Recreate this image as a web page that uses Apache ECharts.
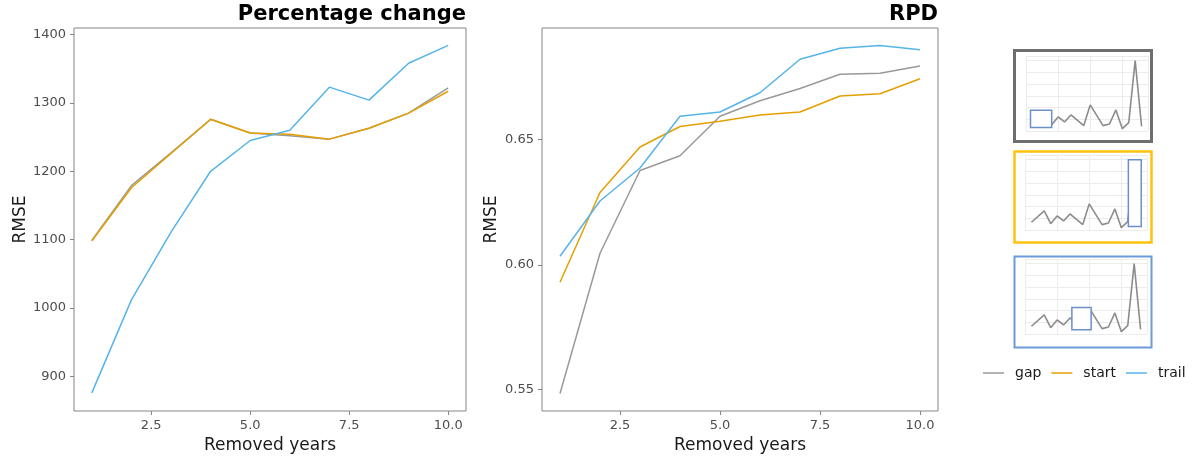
<!DOCTYPE html>
<html><head><meta charset="utf-8">
<script src="https://cdn.jsdelivr.net/npm/echarts@6/dist/echarts.min.js"></script>
<style>html,body{margin:0;padding:0;background:#fff}#c{width:1193px;height:459px}</style>
</head><body><div id="c"></div>
<script>
// ---- data ----
const removedYears = [1, 2, 3, 4, 5, 6, 7, 8, 9, 10];
const seriesNames = ['gap', 'start', 'trail'];
const rmseGap   = [1099, 1179, 1227, 1276, 1256, 1252, 1247, 1263, 1285, 1322];
const rmseStart = [1098, 1176, 1226, 1276, 1256, 1254, 1247, 1263, 1285, 1317];
const rmseTrail = [876, 1012, 1111, 1200, 1245, 1260, 1323, 1304, 1358, 1384];
const rpdGap    = [0.5485, 0.6046, 0.6377, 0.6436, 0.6594, 0.6656, 0.6705, 0.6762, 0.6766, 0.6795];
const rpdStart  = [0.5930, 0.6289, 0.6471, 0.6553, 0.6574, 0.6599, 0.6611, 0.6675, 0.6684, 0.6744];
const rpdTrail  = [0.6034, 0.6255, 0.6387, 0.6594, 0.6611, 0.6688, 0.6822, 0.6866, 0.6877, 0.6860];
const xTicks = [2.5, 5, 7.5, 10];
const rmseTicks = [900, 1000, 1100, 1200, 1300, 1400];
const rpdTicks = [0.55, 0.60, 0.65];
// thumbnail time series (year, percentage change)
const thumbYears  = [1996, 1998, 1999, 2000, 2001, 2002, 2004, 2005, 2007, 2008, 2009, 2010, 2011, 2012, 2013];
const thumbValues = [-34, 63, -46, 20, -23, 37, -54, 123, -54, -40, 80, -80, -29, 500, -60];
// removed window per thumbnail: [yearFrom, yearTo, valueLow, valueHigh]
const thumbWindows = [
  [1995.7, 1999.0, -71, 77],
  [2011.1, 2013.1, -71, 500],
  [2002.3, 2005.3, -63, 126]
];

// ---- styles ----
const colors = {gap: '#999999', start: '#E69F00', trail: '#56B4E9'};
const FONT = 'DejaVu Sans';
const borderCol = '#858585';
const pair = (xs, ys) => xs.map((x, i) => [x, ys[i]]);

const grids = [
  {left: 74, top: 28, width: 392, height: 385},
  {left: 542, top: 28, width: 396, height: 385},
  {left: 1026, top: 56, width: 122, height: 75},
  {left: 1025, top: 155, width: 122, height: 75},
  {left: 1025, top: 259, width: 122, height: 75}
].map((g, i) => Object.assign({show: i < 2, borderColor: borderCol, borderWidth: 1, backgroundColor: 'transparent', containLabel: false}, g));

function mainX(gi) {
  return {
    type: 'value', gridIndex: gi, min: 0.55, max: 10.45,
    name: 'Removed years', nameLocation: 'middle', nameGap: 26,
    nameTextStyle: {fontSize: 17, color: '#1a1a1a', fontFamily: FONT},
    axisLine: {show: false},
    axisTick: {show: true, customValues: xTicks, length: 4, lineStyle: {color: borderCol}},
    axisLabel: {customValues: xTicks, formatter: v => v.toFixed(1), fontSize: 13, color: '#4d4d4d', fontFamily: FONT, margin: 8},
    splitLine: {show: false}
  };
}
function mainY(gi, min, max, ticks, dec, gap) {
  return {
    type: 'value', gridIndex: gi, min: min, max: max,
    name: 'RMSE', nameLocation: 'middle', nameGap: gap,
    nameTextStyle: {fontSize: 17, color: '#1a1a1a', fontFamily: FONT},
    axisLine: {show: false},
    axisTick: {show: true, customValues: ticks, length: 4, lineStyle: {color: borderCol}},
    axisLabel: {customValues: ticks, formatter: v => v.toFixed(dec), fontSize: 13, color: '#4d4d4d', fontFamily: FONT, margin: 8},
    splitLine: {show: false}
  };
}
function thumbX(gi) {
  return {type: 'value', gridIndex: gi, min: 1995, max: 2014, interval: 5,
    axisLine: {show: false}, axisTick: {show: false}, axisLabel: {show: false},
    splitLine: {show: true, lineStyle: {color: '#ececec', width: 1}}};
}
function thumbY(gi) {
  return {type: 'value', gridIndex: gi, min: -100, max: 540, interval: 100,
    axisLine: {show: false}, axisTick: {show: false}, axisLabel: {show: false},
    splitLine: {show: true, lineStyle: {color: '#ececec', width: 1}}};
}

const series = [];
const rmse = {gap: rmseGap, start: rmseStart, trail: rmseTrail};
const rpd = {gap: rpdGap, start: rpdStart, trail: rpdTrail};
seriesNames.forEach(n => {
  series.push({name: n, type: 'line', xAxisIndex: 0, yAxisIndex: 0, data: pair(removedYears, rmse[n]),
    symbol: 'none', lineStyle: {color: colors[n], width: 1.5}, itemStyle: {color: colors[n]}});
});
seriesNames.forEach(n => {
  series.push({name: n, type: 'line', xAxisIndex: 1, yAxisIndex: 1, data: pair(removedYears, rpd[n]),
    symbol: 'none', lineStyle: {color: colors[n], width: 1.5}, itemStyle: {color: colors[n]}});
});
thumbWindows.forEach((w, k) => {
  const gi = 2 + k;
  series.push({name: 'thumb' + k, type: 'line', xAxisIndex: gi, yAxisIndex: gi,
    data: pair(thumbYears, thumbValues), symbol: 'none', silent: true, z: 2,
    lineStyle: {color: '#8c8c8c', width: 1.6}});
  series.push({name: 'window' + k, type: 'custom', xAxisIndex: gi, yAxisIndex: gi, z: 5, silent: true,
    data: [w], encode: {x: [0, 1], y: [2, 3]},
    renderItem: (params, api) => {
      const p1 = api.coord([api.value(0), api.value(3)]);
      const p2 = api.coord([api.value(1), api.value(2)]);
      return {type: 'rect', shape: {x: p1[0], y: p1[1], width: p2[0] - p1[0], height: p2[1] - p1[1]},
        style: {fill: '#ffffff', stroke: '#6a8fc9', lineWidth: 1.5}};
    }});
});

const option = {
  animation: false,
  backgroundColor: '#ffffff',
  title: [
    {text: 'Percentage change', right: 1193 - 466, top: 4, padding: 0,
      textStyle: {fontFamily: FONT, fontSize: 21, fontWeight: 'bold', color: '#000'}},
    {text: 'RPD', right: 1193 - 938, top: 4, padding: 0,
      textStyle: {fontFamily: FONT, fontSize: 21, fontWeight: 'bold', color: '#000'}}
  ],
  grid: grids,
  xAxis: [mainX(0), mainX(1), thumbX(2), thumbX(3), thumbX(4)],
  yAxis: [mainY(0, 849.5, 1409.5, rmseTicks, 0, 36), mainY(1, 0.5415, 0.6947, rpdTicks, 2, 42),
    thumbY(2), thumbY(3), thumbY(4)],
  legend: {
    data: seriesNames.map(n => ({name: n, icon: 'rect', itemStyle: {color: colors[n]}})),
    left: 983, top: 366, width: 260, padding: 0, orient: 'horizontal',
    itemWidth: 21, itemHeight: 1.5, itemGap: 10,
    textStyle: {fontFamily: FONT, fontSize: 14, color: '#1a1a1a', padding: [0, 0, 0, 6]},
    selectedMode: false
  },
  graphic: [
    {type: 'rect', shape: {x: 1014.5, y: 50.5, width: 137, height: 91}, style: {fill: 'none', stroke: '#6e6e6e', lineWidth: 3}, z: 100},
    {type: 'rect', shape: {x: 1014.5, y: 151.5, width: 137, height: 91}, style: {fill: 'none', stroke: '#ffc20e', lineWidth: 2.5}, z: 100},
    {type: 'rect', shape: {x: 1014.5, y: 256.5, width: 137, height: 91}, style: {fill: 'none', stroke: '#6b9bd8', lineWidth: 2}, z: 100}
  ],
  series: series
};
const chart = echarts.init(document.getElementById('c'), null, {renderer: 'canvas'});
chart.setOption(option);
</script>
</body></html>
